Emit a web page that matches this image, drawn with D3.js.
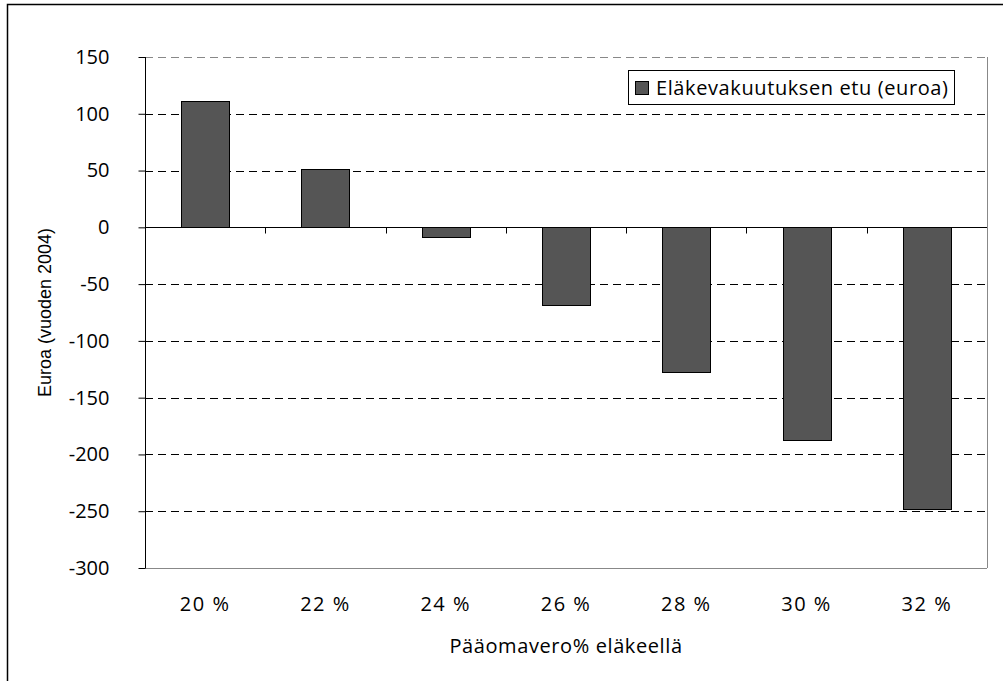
<!DOCTYPE html>
<html><head><meta charset="utf-8">
<script src="https://cdn.jsdelivr.net/npm/d3@7"></script>
<style>body{margin:0;background:#fff}svg{display:block}</style>
</head><body>
<svg id="c" width="1003" height="681"></svg>
<script>
const categories = ["20 %","22 %","24 %","26 %","28 %","30 %","32 %"];
const values = [111, 51, -9, -69, -128, -188, -248];
const yTicks = [150,100,50,0,-50,-100,-150,-200,-250,-300];
const seriesName = "Eläkevakuutuksen etu (euroa)";
const xTitle = "Pääomavero% eläkeellä";
const yTitle = "Euroa (vuoden 2004)";

const svg = d3.select("#c");
const font = "'Open Sans', sans-serif";
const fs = 20;
const ls = "0.6px";
const L = 145, R = 987, T = 57, B = 568;

svg.append("rect").attr("x",7.5).attr("y",4.5).attr("width",1010).attr("height",700)
  .attr("fill","#fff").attr("stroke","#000").attr("stroke-width",1.5);

const x = d3.scaleBand().domain(categories).range([L,R]).padding(0);
const y = d3.scaleLinear().domain([-300,150]).range([B,T]);

// gridlines
svg.append("g").selectAll("line").data(yTicks.filter(d=>d!==0 && d!==-300)).join("line")
  .attr("x1",L).attr("x2",R).attr("y1",d=>Math.round(y(d))+0.5).attr("y2",d=>Math.round(y(d))+0.5)
  .attr("stroke",d=>d===150?"#888":"#000").attr("stroke-dasharray","8,5");

// plot frame right & bottom
svg.append("line").attr("x1",R+0.5).attr("x2",R+0.5).attr("y1",T).attr("y2",B).attr("stroke","#888");
svg.append("line").attr("x1",L).attr("x2",R).attr("y1",B+0.5).attr("y2",B+0.5).attr("stroke","#888");

// bars
const bw = x.bandwidth()*0.4;
svg.append("g").selectAll("rect").data(values).join("rect")
  .attr("x",(d,i)=>Math.round(x(categories[i])+x.bandwidth()/2-bw/2)+0.5)
  .attr("width",Math.round(bw))
  .attr("y",d=>Math.round(y(Math.max(0,d)))+0.5)
  .attr("height",d=>Math.round(Math.abs(y(d)-y(0))))
  .attr("fill","#555555").attr("stroke","#000").attr("stroke-width",1);

// y axis
const yAxis = d3.axisLeft(y).tickValues(yTicks).tickSize(7).tickPadding(29).tickFormat(d3.format("d"));
const gy = svg.append("g").attr("transform",`translate(${L+0.5},0)`).call(yAxis);
gy.select(".domain").attr("d",`M0,${T}V${B}`).attr("stroke","#000");
gy.selectAll(".tick line").attr("stroke","#000");
gy.selectAll("text").attr("font-family",font).attr("font-size",fs).attr("fill","#000").text(d=>d<0?"-"+Math.abs(d):d);

// zero line with category ticks
const y0 = Math.round(y(0))+0.5;
svg.append("line").attr("x1",L).attr("x2",R).attr("y1",y0).attr("y2",y0).attr("stroke","#000");
const xAxis = d3.axisBottom(x).tickSize(0).tickFormat("");
const gx0 = svg.append("g");
gx0.selectAll("line").data(categories.slice(1)).join("line")
  .attr("x1",d=>Math.round(x(d))+0.5).attr("x2",d=>Math.round(x(d))+0.5)
  .attr("y1",y0).attr("y2",y0+6).attr("stroke","#000");

// x labels
const gx = svg.append("g").attr("transform",`translate(0,${B})`).call(xAxis);
gx.select(".domain").remove();
gx.selectAll("text").text(d=>d).attr("font-family",font).attr("font-size",fs).attr("fill","#000")
  .attr("letter-spacing","1.5px").attr("dy",0).attr("y",43);

// axis titles
svg.append("text").attr("x",(L+R)/2).attr("y",653).attr("text-anchor","middle")
  .attr("font-family",font).attr("font-size",fs).attr("letter-spacing",ls).text(xTitle);
svg.append("text").attr("transform",`translate(51,${(T+B)/2}) rotate(-90)`).attr("text-anchor","middle")
  .attr("font-family","'Liberation Sans', Arial, sans-serif").attr("font-size",18).attr("fill","#000").text(yTitle);

// legend
const lg = svg.append("g");
lg.append("rect").attr("x",628.5).attr("y",70.5).attr("width",326).attr("height",34)
  .attr("fill","#fff").attr("stroke","#000");
lg.append("rect").attr("x",635.5).attr("y",81.5).attr("width",13).attr("height",13)
  .attr("fill","#555555").attr("stroke","#000");
lg.append("text").attr("x",656).attr("y",95).attr("font-family",font).attr("font-size",fs)
  .attr("letter-spacing",ls).text(seriesName);
</script>
</body></html>
